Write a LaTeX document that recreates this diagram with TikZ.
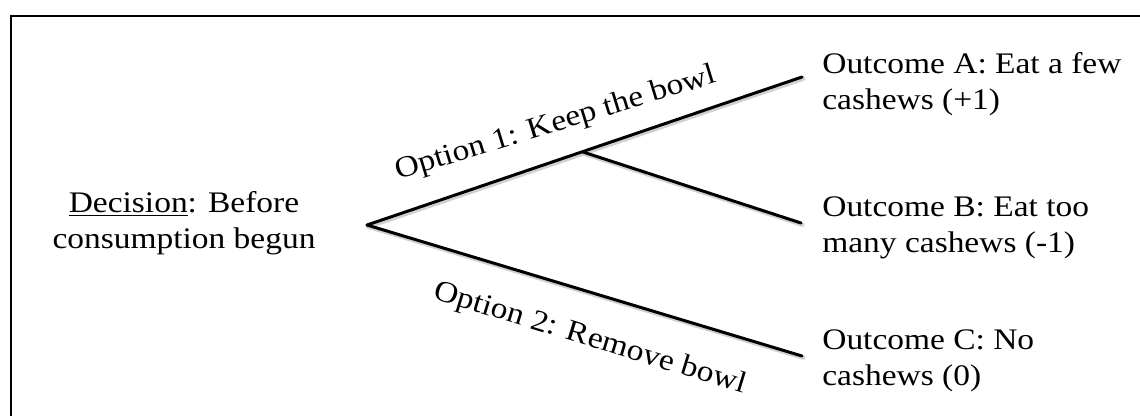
\documentclass[tikz,border=0pt]{standalone}
\usepackage{fontspec}
\setmainfont[FakeStretch=1.12]{Liberation Serif}
\usetikzlibrary{positioning}

\begin{document}
\begin{tikzpicture}[
        x=0.02cm, y=-0.02cm,
        branch/.style = {line width=1.7pt, line cap=round},
        shadow/.style = {line width=2.6pt, line cap=round, black!18,
                         transform canvas={xshift=0.7pt, yshift=-0.9pt}},
        txt/.style    = {font=\fontsize{17}{20.5}\selectfont, inner sep=0pt},
        outcome/.style = {txt, align=left, anchor=north west}
    ]
        \useasboundingbox (0,0) rectangle (1140,416);
        \begin{scope}
            \clip (0,0) rectangle (1140,416);
            \draw[line width=1.7pt] (11,16) rectangle (1170,450);
        \end{scope}

        % decision and outcomes
        \node[txt, align=center] (decision) at (184,223)
            {\underline{Decision}: Before\\consumption begun};
        \node[outcome] (outA) at (822,52)  {Outcome A: Eat a few\\cashews (+1)};
        \node[outcome] (outB) at (822,196) {Outcome B: Eat too\\many cashews (-1)};
        \node[outcome] (outC) at (822,329) {Outcome C: No\\cashews (0)};

        \coordinate (root) at (367,225);
        \coordinate (fork) at (583,152);
        \coordinate (endA) at (802,77);
        \coordinate (endB) at (801,223);
        \coordinate (endC) at (802,356);

        \draw[shadow] (root) -- (endA);
        \draw[shadow] (fork) -- (endB);
        \draw[shadow] (root) -- (endC);
        \draw[branch] (root) -- (endA);
        \draw[branch] (fork) -- (endB);
        \draw[branch] (root) -- (endC);

        \node[txt, rotate=17,  anchor=base] (opt1) at (558,131) {Option 1: Keep the bowl};
        \node[txt, rotate=-17, anchor=base] (opt2) at (588,346) {Option 2: Remove bowl};
    \end{tikzpicture}
\end{document}
